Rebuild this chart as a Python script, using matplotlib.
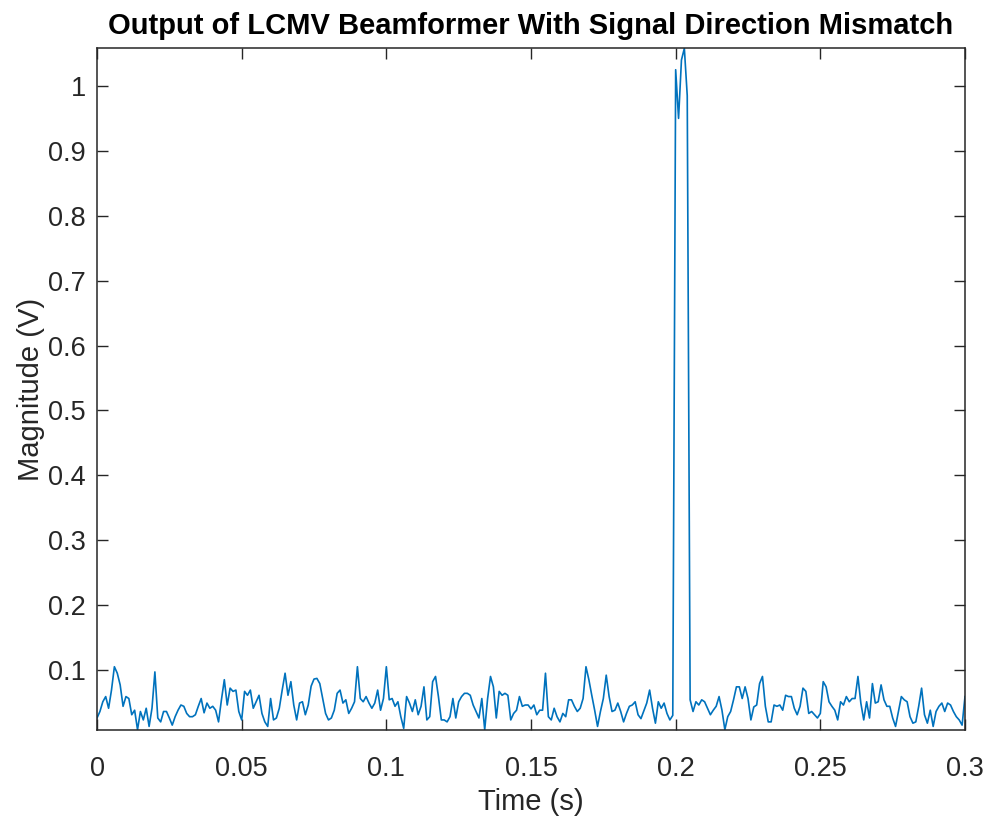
import matplotlib
matplotlib.use('Agg')

import numpy as np
import matplotlib.pyplot as plt

# sample rate of the beamformer output (Hz)
fs = 1000

# |y| before the pulse, t = 0 .. 0.199 s
noise_before = [
    0.026, 0.036, 0.051, 0.059, 0.041, 0.069, 0.105, 0.095, 0.077, 0.044,
    0.059, 0.056, 0.031, 0.038, 0.008, 0.036, 0.023, 0.041, 0.013, 0.041,
    0.097, 0.026, 0.020, 0.036, 0.036, 0.026, 0.015, 0.028, 0.038, 0.046,
    0.044, 0.033, 0.028, 0.028, 0.031, 0.044, 0.056, 0.034, 0.049, 0.041,
    0.044, 0.038, 0.020, 0.054, 0.085, 0.046, 0.072, 0.067, 0.069, 0.036,
    0.023, 0.067, 0.061, 0.069, 0.041, 0.051, 0.061, 0.033, 0.020, 0.013,
    0.056, 0.023, 0.026, 0.041, 0.069, 0.095, 0.061, 0.082, 0.046, 0.023,
    0.049, 0.051, 0.031, 0.046, 0.075, 0.086, 0.087, 0.079, 0.056, 0.033,
    0.023, 0.026, 0.038, 0.064, 0.069, 0.049, 0.054, 0.033, 0.041, 0.051,
    0.105, 0.056, 0.051, 0.059, 0.049, 0.041, 0.049, 0.069, 0.038, 0.056,
    0.105, 0.054, 0.056, 0.044, 0.051, 0.028, 0.010, 0.059, 0.049, 0.036,
    0.054, 0.031, 0.044, 0.074, 0.023, 0.028, 0.082, 0.090, 0.059, 0.023,
    0.023, 0.020, 0.028, 0.056, 0.026, 0.051, 0.059, 0.064, 0.064, 0.061,
    0.046, 0.036, 0.026, 0.056, 0.008, 0.056, 0.090, 0.074, 0.026, 0.067,
    0.061, 0.064, 0.061, 0.023, 0.033, 0.038, 0.059, 0.044, 0.046, 0.046,
    0.040, 0.046, 0.031, 0.038, 0.038, 0.095, 0.028, 0.023, 0.041, 0.028,
    0.020, 0.033, 0.028, 0.054, 0.054, 0.044, 0.036, 0.041, 0.056, 0.105,
    0.085, 0.061, 0.038, 0.013, 0.036, 0.056, 0.092, 0.059, 0.036, 0.038,
    0.049, 0.036, 0.020, 0.033, 0.044, 0.046, 0.051, 0.031, 0.025, 0.037,
    0.049, 0.069, 0.041, 0.018, 0.051, 0.041, 0.049, 0.033, 0.023, 0.030,
]

# the rectangular pulse, t = 0.200 .. 0.204 s
pulse = [1.025, 0.950, 1.040, 1.058, 0.985]

# |y| after the pulse, t = 0.205 .. 0.300 s
noise_after = [
    0.054, 0.036, 0.051, 0.046, 0.054, 0.051, 0.041, 0.031, 0.038, 0.044,
    0.059, 0.038, 0.008, 0.028, 0.036, 0.054, 0.074, 0.074, 0.056, 0.074,
    0.056, 0.023, 0.043, 0.046, 0.079, 0.090, 0.044, 0.020, 0.020, 0.046,
    0.044, 0.046, 0.038, 0.061, 0.059, 0.059, 0.041, 0.031, 0.044, 0.072,
    0.067, 0.033, 0.036, 0.031, 0.026, 0.033, 0.082, 0.074, 0.051, 0.044,
    0.038, 0.023, 0.051, 0.046, 0.059, 0.051, 0.056, 0.056, 0.090, 0.049,
    0.023, 0.051, 0.026, 0.079, 0.049, 0.051, 0.077, 0.054, 0.044, 0.044,
    0.026, 0.013, 0.036, 0.059, 0.054, 0.051, 0.028, 0.018, 0.020, 0.044,
    0.072, 0.031, 0.018, 0.038, 0.013, 0.036, 0.044, 0.049, 0.036, 0.049,
    0.046, 0.036, 0.028, 0.023, 0.015, 0.059,
]

x_ticks = [0, 0.05, 0.1, 0.15, 0.2, 0.25, 0.3]
x_tick_labels = ['0', '0.05', '0.1', '0.15', '0.2', '0.25', '0.3']
y_ticks = [0.1, 0.2, 0.3, 0.4, 0.5, 0.6, 0.7, 0.8, 0.9, 1.0]
y_tick_labels = ['0.1', '0.2', '0.3', '0.4', '0.5', '0.6', '0.7', '0.8', '0.9', '1']

TXT = '#262626'
LINE = '#0072BD'

plt.rcParams['font.family'] = ['Liberation Sans', 'DejaVu Sans']


def main() -> None:
    y = np.array(noise_before + pulse + noise_after)
    t = np.arange(len(y)) / fs

    fig = plt.figure(figsize=(9.87, 8.16), dpi=100)
    ax = fig.add_axes([0.0983, 0.1054, 0.8794, 0.8358])

    ax.plot(t, y, color=LINE, lw=1.2)

    # MATLAB-ish "axis tight"
    ax.set_xlim(t[0], t[-1])
    ax.set_ylim(y.min() - 0.0005, y.max() + 0.0005)

    ax.set_xticks(x_ticks)
    ax.set_xticklabels(x_tick_labels)
    ax.set_yticks(y_ticks)
    ax.set_yticklabels(y_tick_labels)

    ax.tick_params(direction='in', length=8, width=1.0, colors=TXT,
                   labelsize=19.5, top=True, right=True, pad=8)
    ax.tick_params(axis='x', pad=19)
    for sp in ax.spines.values():
        sp.set_color(TXT)
        sp.set_linewidth(1.1)

    ax.set_xlabel('Time (s)', fontsize=21, color=TXT, labelpad=4)
    ax.set_ylabel('Magnitude (V)', fontsize=21, color=TXT, labelpad=2.5)
    ax.set_title('Output of LCMV Beamformer With Signal Direction Mismatch',
                 fontsize=21, fontweight='bold', color='black', pad=10)

    fig.savefig('out.png', dpi=100, facecolor='white')
    plt.close(fig)


if __name__ == "__main__":
    main()
